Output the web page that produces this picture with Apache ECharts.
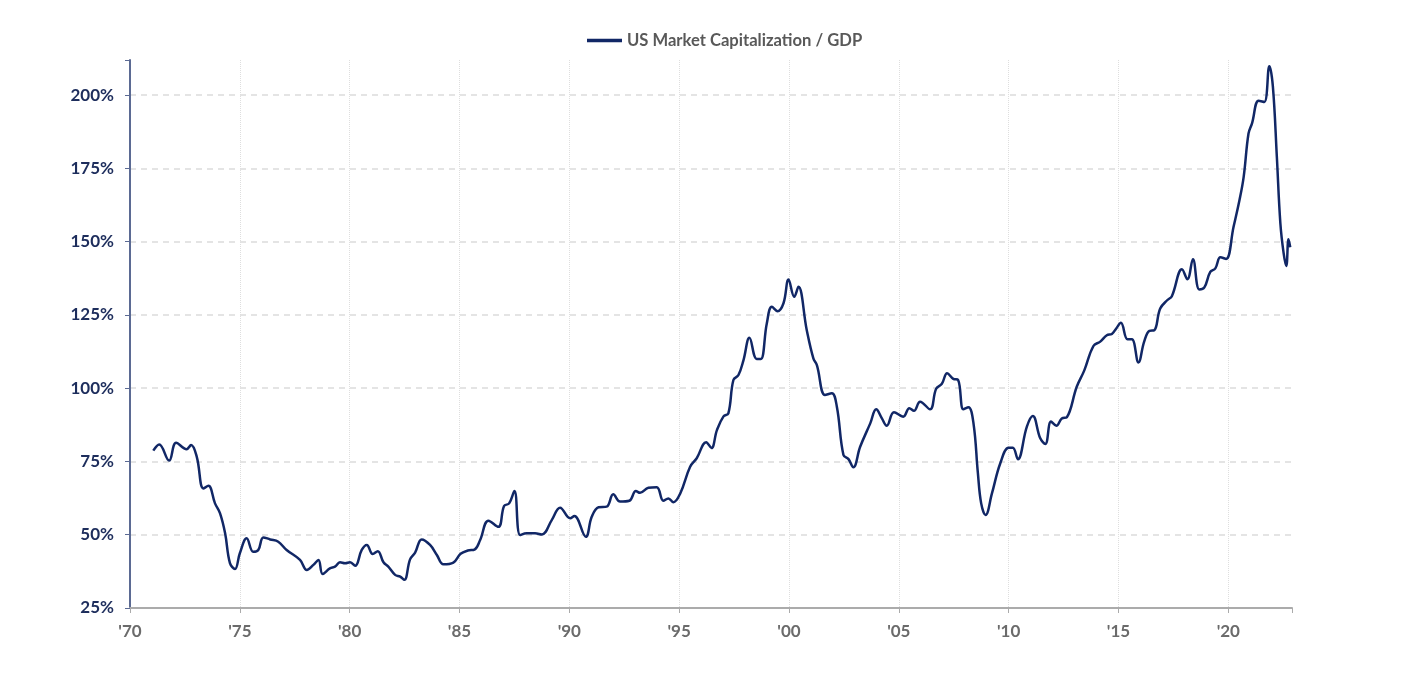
<!DOCTYPE html>
<html>
<head>
<meta charset="utf-8">
<script src="https://cdn.jsdelivr.net/npm/echarts@6/dist/echarts.min.js"></script>
<style>
html,body{margin:0;padding:0;background:#fff;}
#chart{width:1414px;height:700px;}
</style>
</head>
<body>
<div id="chart"></div>
<script>
var seriesName = 'US Market Capitalization / GDP';
var years = [
1971.06,1971.33,1971.78,1972.10,1972.58,1972.78,1973.04,1973.34,1973.57,1973.87,
1974.10,1974.33,1974.55,1974.78,1975.00,1975.31,1975.61,1975.84,1976.07,1976.38,
1976.75,1977.13,1977.74,1978.05,1978.35,1978.58,1978.77,1979.10,1979.33,1979.56,
1979.79,1980.02,1980.25,1980.55,1980.78,1981.05,1981.28,1981.54,1981.76,1982.07,
1982.30,1982.49,1982.75,1982.98,1983.28,1983.66,1983.97,1984.27,1984.72,1985.05,
1985.38,1985.70,1985.94,1986.32,1986.77,1987.03,1987.26,1987.50,1987.76,1988.06,
1988.44,1988.75,1989.20,1989.58,1990.04,1990.23,1990.75,1991.02,1991.33,1991.70,
1992.00,1992.31,1992.73,1993.03,1993.22,1993.60,1993.98,1994.28,1994.51,1994.74,
1995.05,1995.50,1995.80,1996.23,1996.47,1996.72,1997.02,1997.24,1997.47,1997.70,
1997.93,1998.20,1998.53,1998.72,1998.99,1999.22,1999.48,1999.75,1999.98,2000.24,
2000.43,2000.81,2001.11,2001.27,2001.64,2001.95,2002.18,2002.48,2002.71,2002.93,
2003.24,2003.70,2003.97,2004.23,2004.45,2004.78,2005.20,2005.48,2005.69,2005.97,
2006.42,2006.70,2006.96,2007.20,2007.48,2007.70,2007.94,2008.17,2008.40,2008.60,
2008.75,2008.95,2009.24,2009.62,2010.00,2010.19,2010.42,2010.83,2011.10,2011.44,
2011.67,2011.93,2012.17,2012.42,2012.65,2013.10,2013.44,2013.86,2014.17,2014.47,
2014.70,2014.90,2015.11,2015.41,2015.61,2015.91,2016.17,2016.41,2016.63,2016.90,
2017.23,2017.43,2017.89,2018.14,2018.39,2018.68,2018.91,2019.18,2019.41,2019.64,
2019.90,2020.24,2020.51,2020.70,2020.92,2021.08,2021.38,2021.64,2021.87,2022.03,
2022.21,2022.37,2022.52,2022.64,2022.74,2022.82
];
var ratio = [
78.7,80.8,75.3,81.4,79.2,80.6,76.6,65.8,66.7,60.7,
57.3,50.5,40.3,38.3,43.7,48.8,44.2,44.8,49.1,48.4,
47.6,44.8,41.4,38.0,39.7,41.4,36.6,38.5,39.1,40.6,
40.3,40.6,39.4,44.8,46.5,43.4,44.4,40.6,39.1,36.3,
35.7,34.6,41.6,43.9,48.4,46.5,43.1,39.9,40.5,43.5,
44.6,45.0,48.2,54.8,52.7,59.8,60.7,64.9,49.9,50.5,
50.5,50.1,55.0,59.2,55.6,56.4,49.3,56.1,59.4,59.6,
63.8,61.3,61.6,64.9,64.3,66.0,66.2,61.6,62.4,61.1,
64.1,73.2,76.1,81.6,79.6,85.7,90.4,91.4,102.8,104.5,
109.6,117.2,110.0,110.0,122.1,127.8,126.3,129.0,137.1,131.2,
134.6,119.8,110.2,107.9,97.7,98.3,93.7,77.2,75.8,73.0,
80.0,88.0,92.8,89.7,87.2,91.8,90.3,93.2,92.3,95.4,
92.8,99.8,101.5,105.1,103.2,102.8,92.8,93.5,88.0,71.0,
60.7,56.7,64.1,74.4,79.7,79.7,75.8,86.9,90.5,82.9,
81.0,88.6,87.2,89.7,90.1,100.5,106.0,114.4,115.9,118.1,
118.5,120.4,122.3,116.7,116.7,108.8,115.9,119.6,119.8,127.2,
130.1,131.4,140.6,137.2,144.0,133.7,134.4,139.7,140.9,144.7,
144.1,155.1,164.2,172.1,186.9,190.4,198.1,197.7,209.9,202.9,
179.0,156.3,146.0,141.7,150.8,148.1
];

var pts = years.map(function (y, i) { return [y, ratio[i]]; });

var chart = echarts.init(document.getElementById('chart'));
chart.setOption({
  animation: false,
  backgroundColor: '#ffffff',
  textStyle: { fontFamily: 'Lato, "Open Sans", sans-serif' },
  legend: {
    top: 27,
    left: 582,
    icon: 'path://M0,0 L10,0 L10,1 L0,1 Z',
    itemWidth: 35,
    itemHeight: 3.5,
    data: [seriesName],
    textStyle: { fontSize: 16.6, fontWeight: 'bold', color: '#595959', fontFamily: 'Lato, sans-serif' }
  },
  grid: { left: 130, right: 122, top: 60, bottom: 92, containLabel: false },
  xAxis: {
    type: 'value',
    min: 1970,
    max: 2022.9,
    interval: 5,
    axisLine: { show: true, lineStyle: { color: '#ababab', width: 2 } },
    axisTick: { show: true, length: 5, lineStyle: { color: '#ababab', width: 1 } },
    axisLabel: {
      margin: 15,
      fontSize: 17,
      fontWeight: 'bold',
      color: '#6b6b6b',
      formatter: function (v) {
        var r = Math.round(v);
        if (Math.abs(v - r) > 0.01 || r % 5 !== 0) return '';
        return "'" + String(r).slice(2);
      }
    },
    splitLine: {
      show: true,
      showMinLine: false,
      showMaxLine: false,
      lineStyle: { color: '#dedede', type: 'dotted', width: 1 }
    }
  },
  yAxis: {
    type: 'value',
    min: 25,
    max: 212,
    interval: 25,
    axisLine: { show: true, lineStyle: { color: '#5b6a93', width: 2 } },
    axisTick: { show: true, length: 5, lineStyle: { color: '#5b6a93', width: 1 } },
    axisLabel: {
      margin: 16,
      fontSize: 17,
      fontWeight: 'bold',
      color: '#1d2d5c',
      formatter: function (v) {
        if (Math.abs(v % 25) > 0.01) return '';
        return v + '%';
      }
    },
    splitLine: {
      show: true,
      showMinLine: false,
      showMaxLine: false,
      lineStyle: { color: '#dcdcdc', type: [6, 5], width: 1.5 }
    }
  },
  series: [{
    name: seriesName,
    type: 'line',
    data: pts,
    symbol: 'none',
    smooth: 0.4,
    lineStyle: { color: '#112766', width: 2.5 },
    itemStyle: { color: '#112766' }
  }]
});
</script>
</body>
</html>
